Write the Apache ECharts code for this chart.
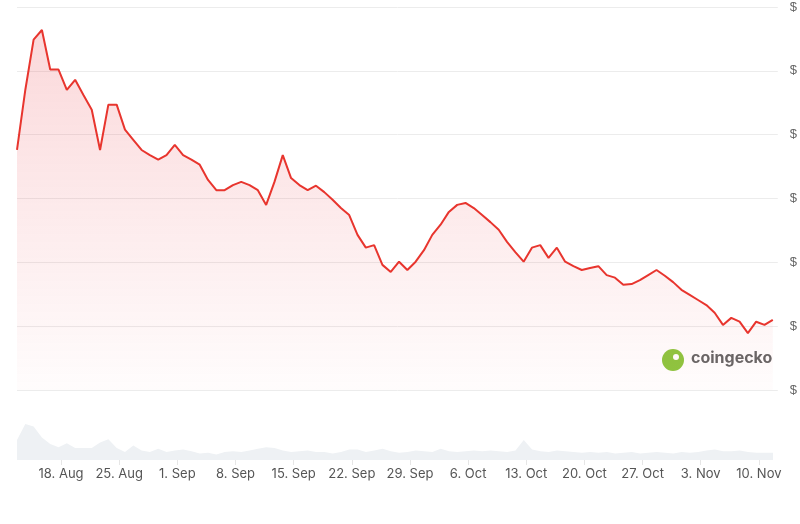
<!DOCTYPE html>
<html>
<head>
<meta charset="utf-8">
<script src="https://cdn.jsdelivr.net/npm/echarts@6/dist/echarts.min.js"></script>
<style>html,body{margin:0;padding:0;background:#fff}#c{width:800px;height:524px}</style>
</head>
<body>
<div id="c"></div>
<script>
// day offsets counted from 11 Aug, first sample at 1.7
const startDay = 1.7;
const price = [3.76,4.70,5.49,5.64,5.02,5.02,4.70,4.86,4.62,4.39,3.76,4.47,4.47,4.08,3.92,3.76,3.68,3.61,3.68,3.84,
  3.68,3.61,3.53,3.29,3.13,3.13,3.21,3.26,3.21,3.13,2.90,3.26,3.68,3.32,3.21,3.13,3.20,3.10,2.98,2.85,
  2.74,2.43,2.23,2.27,1.96,1.85,2.01,1.88,2.01,2.19,2.43,2.59,2.79,2.90,2.93,2.85,2.74,2.63,2.51,2.32,
  2.16,2.01,2.23,2.27,2.07,2.23,2.01,1.94,1.88,1.91,1.94,1.80,1.76,1.65,1.66,1.72,1.80,1.88,1.79,1.69,
  1.57,1.49,1.41,1.33,1.21,1.02,1.13,1.07,0.89,1.07,1.02,1.10];
const volume = [25,45,42,28,20,16,21,15,15,15,22,26,15,10,18,12,10,14,10,12,13,11,8,9,7,10,11,10,12,14,
  16,15,12,10,11,12,10,10,8,10,13,13,10,12,14,11,9,10,12,11,10,14,11,10,11,12,11,12,11,10,
  12,25,13,11,10,12,11,10,9,10,9,10,8,9,10,8,9,10,9,8,10,9,10,12,13,11,11,12,10,9,9,9];
const tickDays = [7,14,21,28,35,42,49,56,63,70,77,84,91];
const tickLabels = ['18. Aug','25. Aug','1. Sep','8. Sep','15. Sep','22. Sep','29. Sep','6. Oct','13. Oct','20. Oct','27. Oct','3. Nov','10. Nov'];

const pricePts = price.map((v, i) => [startDay + i, v]);
const volPts = volume.map((v, i) => [startDay + i, v]);
const xMin = startDay, xMax = startDay + price.length - 0.4;

const chart = echarts.init(document.getElementById('c'));
chart.setOption({
  animation: false,
  grid: [
    { left: 17, right: 22, top: 7, bottom: 134 },
    { left: 17, right: 22, top: 400, bottom: 64 }
  ],
  xAxis: [
    { type: 'value', gridIndex: 0, min: xMin, max: xMax, show: false },
    { type: 'value', gridIndex: 1, min: xMin, max: xMax,
      axisLine: { show: false }, splitLine: { show: false },
      axisTick: { show: true, customValues: tickDays, length: 5, lineStyle: { color: '#e6e6e6' } },
      axisLabel: { customValues: tickDays, color: '#555', fontSize: 13, fontFamily: 'Inter',
        formatter: v => tickLabels[tickDays.indexOf(Math.round(v))] || '' } }
  ],
  yAxis: [
    { type: 'value', gridIndex: 0, position: 'right', min: 0, max: 6, interval: 1,
      axisLine: { show: false }, axisTick: { show: false },
      splitLine: { lineStyle: { color: '#ececec' } },
      axisLabel: { color: '#666', fontSize: 13, margin: 12, formatter: () => '$' } },
    { type: 'value', gridIndex: 1, min: 0, max: 75, show: false }
  ],
  series: [
    { type: 'line', xAxisIndex: 0, yAxisIndex: 0, data: pricePts, symbol: 'none',
      lineStyle: { color: '#e8352e', width: 2 },
      areaStyle: { color: new echarts.graphic.LinearGradient(0, 0, 0, 1, [
        { offset: 0, color: 'rgba(234,57,67,0.28)' }, { offset: 1, color: 'rgba(234,57,67,0.02)' }]) } },
    { type: 'line', xAxisIndex: 1, yAxisIndex: 1, data: volPts, symbol: 'none',
      lineStyle: { width: 0 }, areaStyle: { color: '#eef1f4', opacity: 1 } }
  ],
  graphic: [
    { type: 'circle', shape: { cx: 673, cy: 360, r: 11 }, style: { fill: '#8dc63f' } },
    { type: 'circle', shape: { cx: 676, cy: 357, r: 3 }, style: { fill: '#fff' } },
    { type: 'text', left: 691, top: 350, style: { text: 'coingecko', fill: '#666', font: 'bold 16px Inter' } }
  ]
});
</script>
</body>
</html>
